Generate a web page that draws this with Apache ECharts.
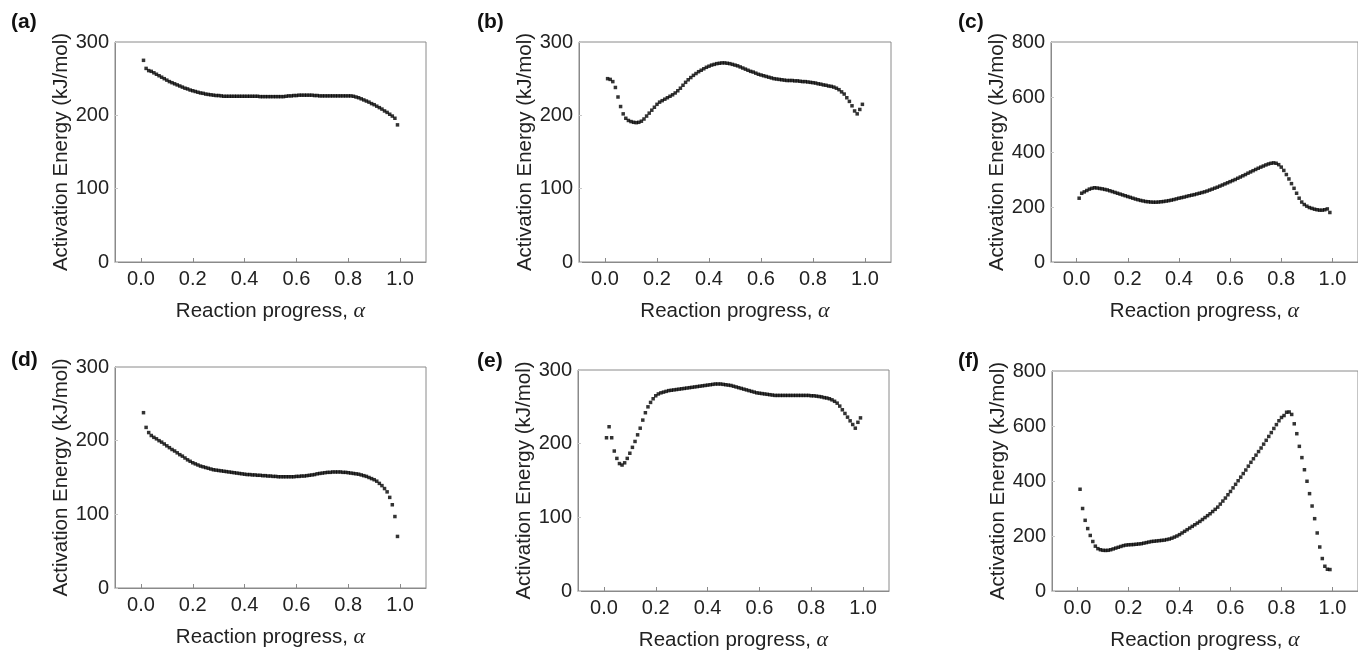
<!DOCTYPE html>
<html>
<head>
<meta charset="utf-8">
<title>Activation energy vs reaction progress</title>
<script src="https://cdn.jsdelivr.net/npm/echarts@6/dist/echarts.min.js"></script>
<style>
  html, body { margin: 0; padding: 0; background: #fff; }
  #chart { width: 1358px; height: 652px; }
</style>
</head>
<body>
<div id="chart"></div>
<script>
// reaction progress values (alpha)
const alpha = [
  0.01,0.02,0.03,0.04,0.05,0.06,0.07,0.08,0.09,0.10,
  0.11,0.12,0.13,0.14,0.15,0.16,0.17,0.18,0.19,0.20,
  0.21,0.22,0.23,0.24,0.25,0.26,0.27,0.28,0.29,0.30,
  0.31,0.32,0.33,0.34,0.35,0.36,0.37,0.38,0.39,0.40,
  0.41,0.42,0.43,0.44,0.45,0.46,0.47,0.48,0.49,0.50,
  0.51,0.52,0.53,0.54,0.55,0.56,0.57,0.58,0.59,0.60,
  0.61,0.62,0.63,0.64,0.65,0.66,0.67,0.68,0.69,0.70,
  0.71,0.72,0.73,0.74,0.75,0.76,0.77,0.78,0.79,0.80,
  0.81,0.82,0.83,0.84,0.85,0.86,0.87,0.88,0.89,0.90,
  0.91,0.92,0.93,0.94,0.95,0.96,0.97,0.98,0.99
];

// activation energy (kJ/mol), one array per panel
const eaA = [
  275,264,261,260,258,256,254,252,250,248,
  246,244.5,243,241.5,240,238.5,237,236,234.5,233.5,
  232.5,231.5,230.5,230,229,228.5,228,227.5,227,227,
  226.5,226,226,226,226,226,226,226,226,226,
  226,226,226,226,226,225.5,225.5,225.5,225.5,225.5,
  225.5,225.5,225.5,225.5,225.5,226,226.5,226.5,227,227,
  227.5,227.5,227.5,227.5,227.5,227.5,227,227,226.5,226.5,
  226.5,226.5,226.5,226.5,226.5,226.5,226.5,226.5,226.5,226.5,
  226.5,226,225,224,222.5,221,219.5,218,216,214.5,
  212.5,210.5,208.5,206,204,201.5,199,196,187
];
const eaB = [
  250,249,246,238,225,212,202,196,193,191.5,
  190.5,190,190.5,192,195,199,203,207,211,215,
  218,220,222,224,226,228,230.5,233.5,237,241,
  245,248.5,251.5,254.5,257,259.5,261.5,263.5,265.5,267,
  268.5,269.5,270.5,271,271.5,271.5,271,270.5,269.5,268.5,
  267.5,266,264.5,263,261.5,260,259,257.5,256,255,
  254,253,252,251,250,249.5,249,248.5,248,247.5,
  247.5,247.5,247,247,246.5,246,246,245.5,245,244.5,
  244,243,242.5,241.5,241,240,239.5,238.5,237,235,
  232,229,224,219,213,206,202,208,215
];
const eaC = [
  232,250,255,260,265,268,270,269,267.5,266,
  264,262,259,256,253,250,247,244,241,238,
  235,232,229,226.5,224,222,220,219,218,217.5,
  217.5,218,219,220,221.5,223,225,227,229.5,232,
  234,236,238.5,241,243,245,247.5,250,252.5,255,
  258,261.5,265,268.5,272,276,280,284,288,292,
  296,300,304.5,309,313.5,318,323,327.5,332,336.5,
  341,345,349,353,356.5,359,360.5,359,354,345,
  333,318,302,285,268,250,232,218,209,203,
  198,195,192,190,188.5,188.5,190,193,180
];
const eaD = [
  238,218,211,207,204.5,202.5,200,198,195.5,193,
  190.5,188,186,183.5,181,179,176.5,174,172,170,
  168.5,167,165.5,164.5,163.5,162.5,161.5,160.5,160,159.5,
  159,158.5,158,157.5,157,156.5,156,155.5,155,154.5,
  154,154,153.5,153.5,153,153,152.5,152.5,152,152,
  151.5,151.5,151,151,151,151,151,151,151,151.5,
  151.5,152,152,152.5,153,153.5,154,155,155.5,156,
  156.5,157,157,157.5,157.5,157.5,157.5,157,157,156.5,
  156,155.5,155,154.5,153.5,152.5,151.5,150,148.5,147,
  145,142,139,135,130.5,123,113,97,70
];
const eaE = [
  208,223,208,190,180,173,171,174,180,187,
  195,203,212,221,232,242,250,256,261,265,
  267.5,269,270,271,272,272.5,273,273.5,274,274.5,
  275,275.5,276,276.5,277,277.5,278,278.5,279,279.5,
  280,280.5,281,281,281,280.5,280,279.5,279,278,
  277,276,275,274,273,272,271,270,269,268.5,
  268,267.5,267,266.5,266,265.5,265.5,265.5,265.5,265.5,
  265.5,265.5,265.5,265.5,265.5,265.5,265.5,265.5,265.5,265,
  265,264.5,264,263.5,262.5,262,261,259.5,257.5,255,
  251,246,241,236,231,226,221,229,235
];
const eaF = [
  370,300,257,227,202,180,163,154,150,148,
  147.5,148,150,153,156,159,162,165,167,168,
  168.5,169,170,171,172,174,176,178,180,181,
  182,183,184,185,187,189,192,196,200,205,
  211,217,223,229,235,241,247,253,260,267,
  274,281,289,297,305,316,327,338,350,362,
  375,388,401,414,427,440,454,468,481,494,
  507,520,534,548,562,576,591,605,619,631,
  638,650,651,642,608,572,526,485,441,399,
  354,309,263,211,160,118,90,79,78
];

const panelLabels = ['(a)', '(b)', '(c)', '(d)', '(e)', '(f)'];
const yMax = [300, 300, 800, 300, 300, 800];
const yStep = [100, 100, 200, 100, 100, 200];
const xTicks = [0, 0.2, 0.4, 0.6, 0.8, 1.0];
const panelData = [eaA, eaB, eaC, eaD, eaE, eaF];

// plot box placement (px) and label placement
const boxes = [
  { left: 115, top: 42, width: 311, height: 220 },
  { left: 579, top: 42, width: 312, height: 220 },
  { left: 1051, top: 42, width: 311, height: 220 },
  { left: 115, top: 367, width: 311, height: 221 },
  { left: 578, top: 370, width: 311, height: 221 },
  { left: 1052, top: 371, width: 311, height: 220 }
];
const labelPos = [
  { left: 6, top: 7 }, { left: 472, top: 7 }, { left: 953, top: 7 },
  { left: 6, top: 345 }, { left: 472, top: 346 }, { left: 953, top: 346 }
];

const textColor = '#222';
const lineColor = '#8a8a8a';
const font = 'Liberation Sans, Arial, sans-serif';

const grid = [], xAxis = [], yAxis = [], series = [], title = [];

panelData.forEach(function (vals, i) {
  grid.push(Object.assign({
    show: true, borderColor: lineColor, borderWidth: 1, containLabel: false
  }, boxes[i]));

  title.push(Object.assign({
    text: panelLabels[i],
    textStyle: { fontSize: 21, fontWeight: 'bold', color: '#111', fontFamily: font }
  }, labelPos[i]));

  xAxis.push({
    type: 'value', gridIndex: i, min: -0.1, max: 1.1,
    name: '{t|Reaction progress, }{g|α}',
    nameLocation: 'middle', nameGap: 38,
    nameTextStyle: {
      rich: {
        t: { fontSize: 20.5, color: textColor, fontFamily: font },
        g: { fontSize: 22, color: textColor, fontFamily: 'Liberation Serif, DejaVu Serif, serif', fontStyle: 'italic' }
      }
    },
    splitLine: { show: false },
    axisLine: { show: true, onZero: false, lineStyle: { color: lineColor } },
    axisTick: { show: true, inside: true, length: 4, customValues: xTicks, lineStyle: { color: lineColor } },
    axisLabel: {
      customValues: xTicks, margin: 7, fontSize: 20, color: textColor, fontFamily: font,
      formatter: function (v) { return v.toFixed(1); }
    }
  });

  yAxis.push({
    type: 'value', gridIndex: i, min: 0, max: yMax[i], interval: yStep[i],
    name: 'Activation Energy (kJ/mol)',
    nameLocation: 'middle', nameGap: 43, nameRotate: 90,
    nameTextStyle: { fontSize: 20.5, color: textColor, fontFamily: font },
    splitLine: { show: false },
    axisLine: { show: true, onZero: false, lineStyle: { color: lineColor } },
    axisTick: { show: true, inside: true, length: 3, lineStyle: { color: '#c8c8c8' } },
    axisLabel: { margin: 6, fontSize: 20, color: textColor, fontFamily: font }
  });

  series.push({
    type: 'scatter', xAxisIndex: i, yAxisIndex: i,
    symbol: 'rect', symbolSize: 3.5,
    itemStyle: { color: '#000' },
    data: alpha.map(function (a, k) { return [a, vals[k]]; }),
    silent: true
  });
});

const chart = echarts.init(document.getElementById('chart'), null, { renderer: 'canvas' });
chart.setOption({
  animation: false,
  backgroundColor: '#fff',
  title: title,
  grid: grid,
  xAxis: xAxis,
  yAxis: yAxis,
  series: series
});
</script>
</body>
</html>
